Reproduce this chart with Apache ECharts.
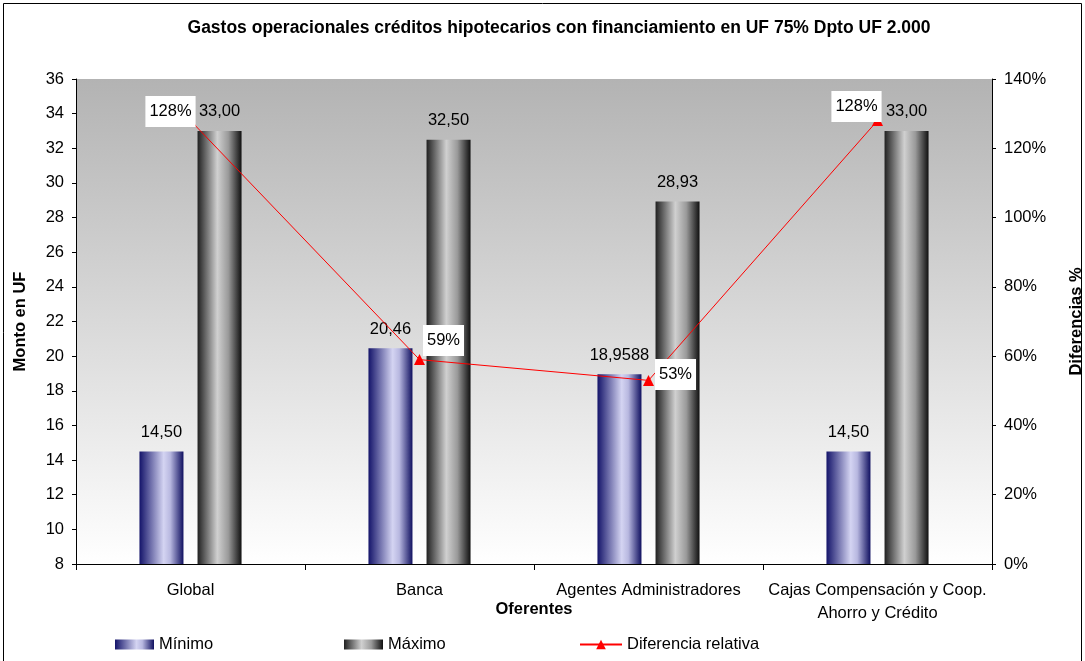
<!DOCTYPE html>
<html>
<head>
<meta charset="utf-8">
<script src="https://cdn.jsdelivr.net/npm/echarts@6/dist/echarts.min.js"></script>
<style>
  html, body { margin: 0; padding: 0; background: #fff; }
  #main { width: 1085px; height: 661px; }
</style>
</head>
<body>
<div id="main"></div>
<script>
  // datos
  var categorias = ['Global', 'Banca', 'Agentes Administradores', 'Cajas Compensación y Coop.\nAhorro y Crédito'];
  var minimo = [14.50, 20.46, 18.9588, 14.50];
  var maximo = [33.00, 32.50, 28.93, 33.00];
  var diferencia = [128, 59, 53, 128];
  // desplazamiento de las etiquetas de la linea respecto del punto
  var difOffsets = [[-20, -9], [24, -19], [27, -6], [-21, -14]];

  var font = '"Liberation Sans", Arial, sans-serif';
  var fs = 16.5;

  function fmtNum(v) {
    var s = String(v);
    var dec = s.indexOf('.') < 0 ? 0 : s.length - s.indexOf('.') - 1;
    return v.toFixed(Math.max(2, dec)).replace('.', ',');
  }

  var myEchart = echarts.init(document.getElementById('main'));
  window.addEventListener('resize', myEchart.resize);

  var gradMin = new echarts.graphic.LinearGradient(0, 0, 1, 0, [
    {offset: 0, color: '#14146a'},
    {offset: 0.55, color: '#d4d4f2'},
    {offset: 0.7, color: '#b8b8e0'},
    {offset: 1, color: '#101060'}
  ]);
  var gradMax = new echarts.graphic.LinearGradient(0, 0, 1, 0, [
    {offset: 0, color: '#202020'},
    {offset: 0.45, color: '#d0d0d0'},
    {offset: 0.7, color: '#9a9a9a'},
    {offset: 1, color: '#101010'}
  ]);

  var txt = {fontSize: fs, color: '#000', fontFamily: font};

  myEchart.setOption({
    animation: false,
    textStyle: {fontFamily: font},
    title: {
      text: 'Gastos operacionales créditos hipotecarios con financiamiento en UF 75% Dpto UF 2.000',
      left: 554,
      top: 14,
      textAlign: 'center',
      textStyle: {fontSize: 17.5, fontWeight: 'bold', color: '#000', fontFamily: font}
    },
    legend: [
      {
        left: 110, top: 631, itemWidth: 39, itemHeight: 10, itemGap: 8,
        textStyle: txt,
        data: [{name: 'Mínimo', icon: 'rect'}]
      },
      {
        left: 339, top: 631, itemWidth: 39, itemHeight: 10,
        textStyle: txt,
        data: [{name: 'Máximo', icon: 'rect'}]
      },
      {
        left: 574, top: 631, itemWidth: 42, itemHeight: 12,
        textStyle: txt,
        data: ['Diferencia relativa']
      }
    ],
    grid: {
      left: 76, right: 93, top: 79, bottom: 97,
      outerBoundsMode: 'none',
      containLabel: false,
      show: true,
      borderWidth: 0,
      backgroundColor: new echarts.graphic.LinearGradient(0, 0, 0, 1, [
        {offset: 0, color: '#b3b3b3'},
        {offset: 1, color: '#ffffff'}
      ])
    },
    graphic: [{
      type: 'rect',
      silent: true,
      shape: {x: 3.5, y: 3.5, width: 1078, height: 680},
      style: {fill: 'none', stroke: '#000', lineWidth: 1}
    }],
    xAxis: {
      type: 'category',
      data: categorias,
      name: 'Oferentes',
      nameLocation: 'middle',
      nameGap: 37,
      nameMoveOverlap: false,
      nameTextStyle: {fontSize: fs, fontWeight: 'bold', color: '#000', fontFamily: font},
      axisLine: {lineStyle: {color: '#000', width: 1}},
      axisTick: {show: true, length: 6, lineStyle: {color: '#000'}},
      axisLabel: {fontSize: fs, color: '#000', margin: 15, lineHeight: 23, interval: 0, fontFamily: font},
      splitLine: {show: false}
    },
    yAxis: [
      {
        type: 'value',
        min: 8, max: 36, interval: 2,
        name: 'Monto en UF',
        nameLocation: 'middle',
        nameRotate: 90,
        nameGap: 47,
        nameMoveOverlap: false,
        nameTextStyle: {fontSize: fs, fontWeight: 'bold', color: '#000', fontFamily: font},
        axisLine: {show: true, lineStyle: {color: '#000', width: 1}},
        axisTick: {show: true, length: 4, lineStyle: {color: '#000'}},
        axisLabel: {fontSize: fs, color: '#000', margin: 12, fontFamily: font},
        splitLine: {show: false}
      },
      {
        type: 'value',
        min: 0, max: 140, interval: 20,
        position: 'right',
        name: 'Diferencias %',
        nameLocation: 'middle',
        nameRotate: 90,
        nameGap: 76,
        nameMoveOverlap: false,
        nameTextStyle: {fontSize: fs, fontWeight: 'bold', color: '#000', fontFamily: font},
        axisLine: {show: true, lineStyle: {color: '#000', width: 1}},
        axisTick: {show: true, length: 4, lineStyle: {color: '#000'}},
        axisLabel: {fontSize: fs, color: '#000', margin: 12, formatter: '{value}%', fontFamily: font},
        splitLine: {show: false}
      }
    ],
    series: [
      {
        name: 'Mínimo',
        type: 'bar',
        barWidth: 44,
        barGap: '32%',
        itemStyle: {color: gradMin},
        label: {
          show: true, position: 'top', distance: 10,
          fontSize: fs, color: '#000', fontFamily: font,
          formatter: function (p) { return fmtNum(p.value); }
        },
        data: minimo
      },
      {
        name: 'Máximo',
        type: 'bar',
        barWidth: 44,
        itemStyle: {color: gradMax},
        label: {
          show: true, position: 'top', distance: 11,
          fontSize: fs, color: '#000', fontFamily: font,
          formatter: function (p) { return fmtNum(p.value); }
        },
        data: maximo
      },
      {
        name: 'Diferencia relativa',
        type: 'line',
        yAxisIndex: 1,
        symbol: 'triangle',
        symbolSize: 11,
        lineStyle: {color: '#ff0000', width: 1},
        itemStyle: {color: '#ff0000'},
        z: 5,
        data: diferencia.map(function (v, i) {
          return {
            value: v,
            label: {
              show: true,
              position: 'inside',
              offset: difOffsets[i],
              formatter: '{c}%',
              fontSize: fs,
              color: '#000',
              fontFamily: font,
              backgroundColor: '#fff',
              padding: [7, 4]
            }
          };
        })
      }
    ]
  });
</script>
</body>
</html>
